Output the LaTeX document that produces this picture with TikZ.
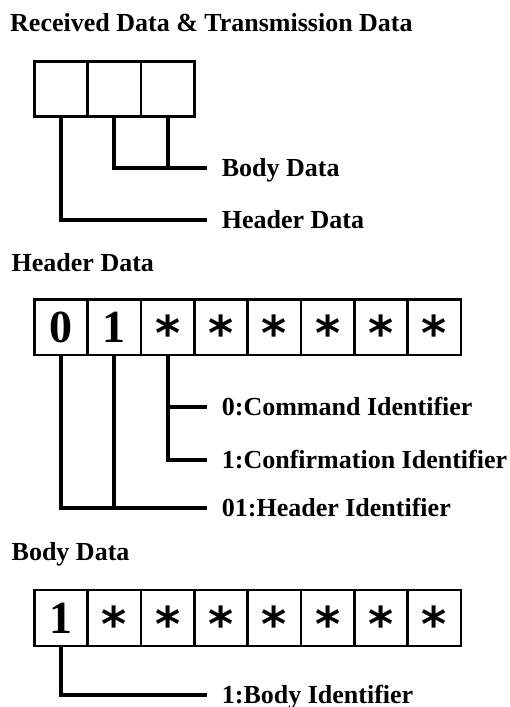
\documentclass[tikz,border=0pt]{standalone}
\usepackage{fontspec}
\setmainfont{Liberation Serif}
\newfontfamily\starfont{DejaVu Sans}
\usetikzlibrary{positioning}

\begin{document}
\begin{tikzpicture}[x=1pt, y=-1pt,
  cell/.style={draw, line width=2.5pt, minimum width=53.33pt, minimum height=55.7pt,
    inner sep=0pt, font=\fontsize{46}{46}\selectfont\bfseries},
  star/.style={text height=46pt, text depth=0pt, font=\starfont\fontsize{48}{48}\selectfont\bfseries},
  lead/.style={line width=4pt},
  lbl/.style={anchor=west, inner sep=0pt, text height=17pt, text depth=0pt,
    font=\fontsize{26}{30}\selectfont\bfseries},
  title/.style={anchor=base west, inner sep=0pt, font=\fontsize{26}{30}\selectfont\bfseries}]
\useasboundingbox (0,0) rectangle (509,707);

% Received / transmission frame
\node [title] (ttrx) at (10,31.7) {Received Data \& Transmission Data};
\foreach \i in {1,2,3} {
  \node [cell, minimum height=55pt] (rx\i) at ({61+53.33*(\i-1)}, 89.2) {};
}
\coordinate (bodyend) at (206.7,168.3);
\coordinate (headend) at (206.7,220);
\draw [lead] (rx1.south) |- (headend);
\draw [lead] (rx2.south) |- (bodyend);
\draw [lead] (rx3.south) -- (rx3.south |- bodyend);
\node [lbl, right=15pt of bodyend] (bodylbl) {Body Data};
\node [lbl, right=15pt of headend] (headlbl) {Header Data};

% Header data byte
\node [title] (thead) at (11.5,271.7) {Header Data};
\node [cell] (hd1) at (61,327.2) {0};
\node [cell] (hd2) at (114.33,327.2) {1};
\foreach \i in {3,...,8} {
  \node [cell, star] (hd\i) at ({61+53.33*(\i-1)}, 327.2) {*};
}
\coordinate (cmdend) at (206.7,406.7);
\coordinate (cnfend) at (206.7,460);
\coordinate (hidend) at (206.7,508.3);
\draw [lead] (hd3.south) |- (cnfend);
\draw [lead] (hd3.south |- cmdend) -- (cmdend);
\draw [lead] (hd1.south) |- (hidend);
\draw [lead] (hd2.south) -- (hd2.south |- hidend);
\node [lbl, right=15pt of cmdend] (cmdlbl) {0:Command Identifier};
\node [lbl, right=15pt of cnfend] (cnflbl) {1:Confirmation Identifier};
\node [lbl, right=15pt of hidend] (hidlbl) {01:Header Identifier};

% Body data byte
\node [title] (tbody) at (11.5,560.7) {Body Data};
\node [cell, minimum height=56pt] (bd1) at (61,618) {1};
\foreach \i in {2,...,8} {
  \node [cell, star, minimum height=56pt] (bd\i) at ({61+53.33*(\i-1)}, 618) {*};
}
\coordinate (bidend) at (206.7,695);
\draw [lead] (bd1.south) |- (bidend);
\node [lbl, right=15pt of bidend] (bidlbl) {1:Body Identifier};

\end{tikzpicture}
\end{document}
